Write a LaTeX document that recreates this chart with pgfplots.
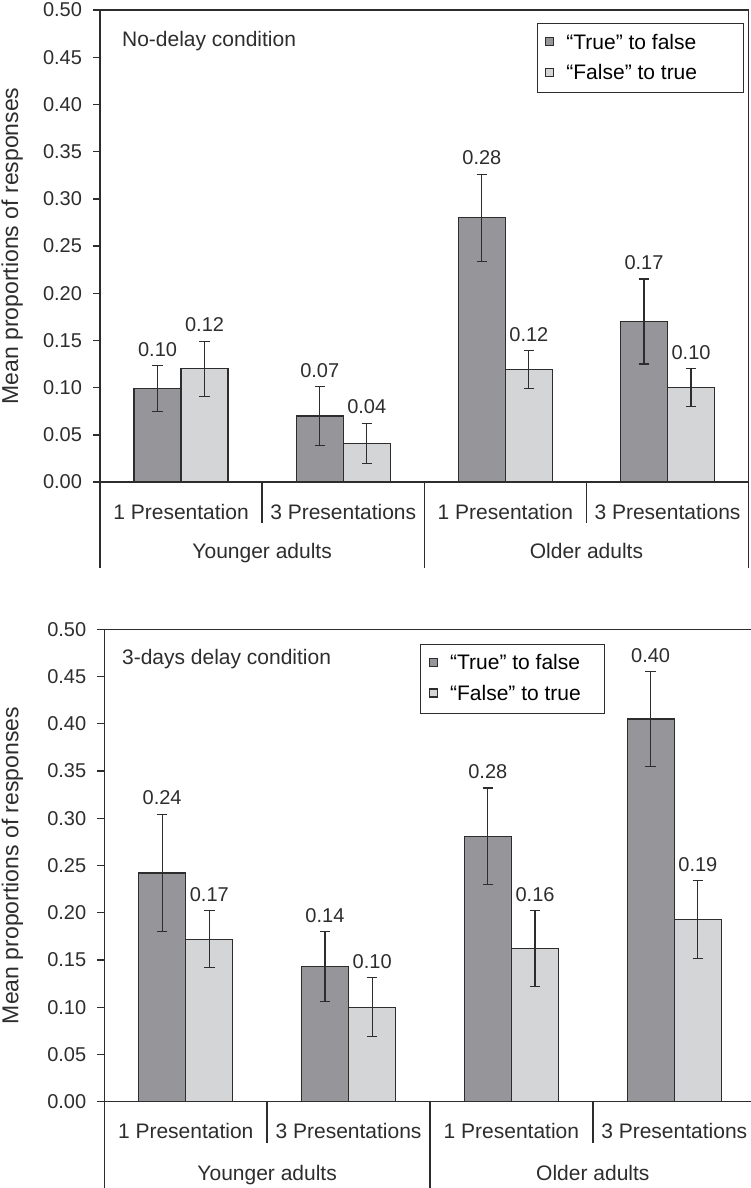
\documentclass[border=0pt]{standalone}
\usepackage{pgfplots}
\pgfplotsset{compat=1.18}
\usepackage{pgfplotstable}
\usepackage{fontspec}
\setmainfont{Liberation Sans}
\definecolor{darkbar}{RGB}{150,150,154}
\definecolor{lightbar}{RGB}{212,213,215}
\definecolor{ink}{RGB}{45,45,45}

\pgfplotstableread{
x y e lab
0 0.099 0.024 0.10
1 0.070 0.031 0.07
2 0.280 0.046 0.28
3 0.170 0.045 0.17
}\topdark
\pgfplotstableread{
x y e lab
0 0.120 0.029 0.12
1 0.041 0.021 0.04
2 0.119 0.020 0.12
3 0.100 0.020 0.10
}\toplight
\pgfplotstableread{
x y e lab
0 0.242 0.062 0.24
1 0.143 0.037 0.14
2 0.281 0.051 0.28
3 0.405 0.050 0.40
}\botdark
\pgfplotstableread{
x y e lab
0 0.172 0.030 0.17
1 0.100 0.031 0.10
2 0.162 0.040 0.16
3 0.193 0.041 0.19
}\botlight

\pgfplotsset{
  panel/.style={
    scale only axis,
    xmin=-0.5, xmax=3.5, ymin=0, ymax=0.5,
    bar width=23.5pt,
    clip=false,
    font=\fontsize{10.5}{12.6}\selectfont,
    axis line style={ink, line width=0.7pt},
    ytick={0,0.05,0.10,0.15,0.20,0.25,0.30,0.35,0.40,0.45,0.50},
    yticklabels={0.00,0.05,0.10,0.15,0.20,0.25,0.30,0.35,0.40,0.45,0.50},
    ytick pos=left,
    tick align=outside,
    major tick length=3.5pt,
    ytick style={ink, line width=0.7pt},
    yticklabel style={font=\fontsize{10}{12}\selectfont, text=ink, xshift=-2pt},
    xtick={0,1,2,3},
    xticklabels={1 Presentation,3 Presentations,1 Presentation,3 Presentations},
    xtick style={draw=none},
    xticklabel style={anchor=base, yshift=-15pt, text=ink},
    legend cell align=left,
    legend image code/.code={\draw[##1] (0pt,-1.25pt) rectangle (4pt,2.75pt);},
    legend style={draw=ink, line width=0.6pt, font=\fontsize{10.5}{12.6}\selectfont,
      anchor=north west, inner xsep=4pt, inner ysep=3pt, row sep=2.3pt, column sep=4pt},
  },
  barplot/.style={
    ybar, bar shift=0pt, draw=ink, line width=0.65pt,
    error bars/y dir=both,
    error bars/y explicit,
    error bars/error bar style={ink, line width=0.55pt},
    error bars/error mark options={rotate=90, mark size=2.6pt, ink, line width=0.55pt},
  },
  labelplot/.style={
    sharp plot, draw=none, mark=none, forget plot,
    nodes near coords,
    point meta=explicit symbolic,
    every node near coord/.append style={anchor=south, inner sep=0pt,
      yshift=4.5pt, font=\fontsize{10}{12}\selectfont, text=ink},
  },
}

\begin{document}
\begin{tikzpicture}
\path[use as bounding box] (0,0) rectangle (375pt,-594pt);

% ---------- top panel ----------
\begin{axis}[panel,
  at={(50pt,-241pt)}, anchor=south west,
  width=324.3pt, height=236pt,
  legend style={at={(rel axis cs:0.673,0.972)}},
]
\addplot[barplot, fill=darkbar] table[x expr=\thisrow{x}-0.145,y=y,y error=e] {\topdark};
\addplot[barplot, fill=lightbar] table[x expr=\thisrow{x}+0.145,y=y,y error=e] {\toplight};
\legend{“True” to false\hspace*{17pt},“False” to true\hspace*{17pt}}
\addplot[labelplot] table[x expr=\thisrow{x}-0.145, y expr=\thisrow{y}+\thisrow{e}, meta=lab] {\topdark};
\addplot[labelplot] table[x expr=\thisrow{x}+0.145, y expr=\thisrow{y}+\thisrow{e}, meta=lab] {\toplight};
\draw[ink, line width=0.7pt] (axis cs:0.5,0) -- ([yshift=-20.5pt]axis cs:0.5,0);
\draw[ink, line width=0.7pt] (axis cs:2.5,0) -- ([yshift=-20.5pt]axis cs:2.5,0);
\draw[ink, line width=0.7pt] (axis cs:-0.5,0) -- ([yshift=-43pt]axis cs:-0.5,0);
\draw[ink, line width=0.7pt] (axis cs:1.5,0) -- ([yshift=-43pt]axis cs:1.5,0);
\draw[ink, line width=0.7pt] (axis cs:3.5,0) -- ([yshift=-43pt]axis cs:3.5,0);
\node[anchor=base, text=ink] at ([yshift=-38pt]axis cs:0.5,0) {Younger adults};
\node[anchor=base, text=ink] at ([yshift=-38pt]axis cs:2.5,0) {Older adults};
\node[anchor=base west, text=ink, inner sep=0pt] at ([xshift=10.85pt,yshift=-18.35pt]rel axis cs:0,1) {No-delay condition};
\node[rotate=90, anchor=base, text=ink, inner sep=0pt, font=\fontsize{11.5}{13}\selectfont] at ([xshift=-41pt]rel axis cs:0,0.5) {Mean proportions of responses};
\end{axis}

% ---------- bottom panel ----------
\begin{axis}[panel,
  at={(52.15pt,-550.85pt)}, anchor=south west,
  width=325.7pt, height=236.2pt,
  legend style={at={(rel axis cs:0.485,0.969)}},
]
\addplot[barplot, fill=darkbar] table[x expr=\thisrow{x}-0.145,y=y,y error=e] {\botdark};
\addplot[barplot, fill=lightbar] table[x expr=\thisrow{x}+0.145,y=y,y error=e] {\botlight};
\legend{“True” to false\hspace*{6pt},“False” to true\hspace*{6pt}}
\addplot[labelplot] table[x expr=\thisrow{x}-0.145, y expr=\thisrow{y}+\thisrow{e}, meta=lab] {\botdark};
\addplot[labelplot] table[x expr=\thisrow{x}+0.145, y expr=\thisrow{y}+\thisrow{e}, meta=lab] {\botlight};
\draw[ink, line width=0.7pt] (axis cs:0.5,0) -- ([yshift=-20.6pt]axis cs:0.5,0);
\draw[ink, line width=0.7pt] (axis cs:2.5,0) -- ([yshift=-20.6pt]axis cs:2.5,0);
\draw[ink, line width=0.7pt] (axis cs:-0.5,0) -- ([yshift=-45pt]axis cs:-0.5,0);
\draw[ink, line width=0.7pt] (axis cs:1.5,0) -- ([yshift=-45pt]axis cs:1.5,0);
\node[anchor=base, text=ink] at ([yshift=-39.5pt]axis cs:0.5,0) {Younger adults};
\node[anchor=base, text=ink] at ([yshift=-39.5pt]axis cs:2.5,0) {Older adults};
\node[anchor=base west, text=ink, inner sep=0pt] at ([xshift=8.7pt,yshift=-17.5pt]rel axis cs:0,1) {3-days delay condition};
\node[rotate=90, anchor=base, text=ink, inner sep=0pt, font=\fontsize{11.5}{13}\selectfont] at ([xshift=-43pt]rel axis cs:0,0.5) {Mean proportions of responses};
\end{axis}
\end{tikzpicture}
\end{document}
